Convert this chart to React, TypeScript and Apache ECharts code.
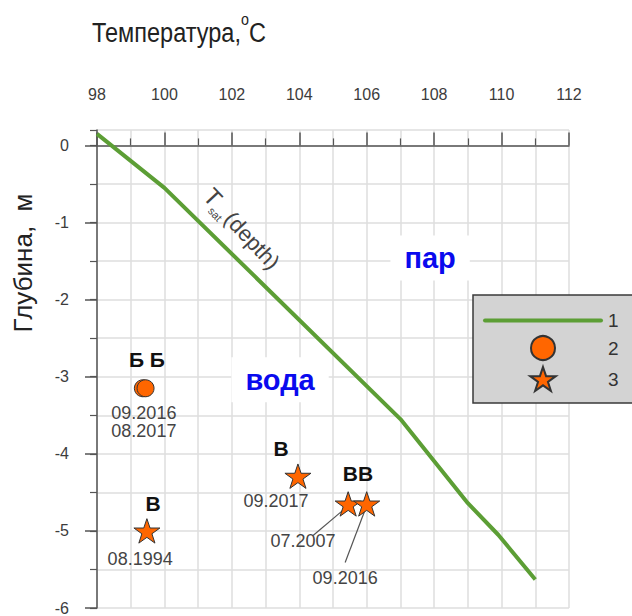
import { useEffect, useRef } from 'react';
import * as echarts from 'echarts';

const FONT = "'Liberation Sans', Arial, sans-serif";

// Axis ticks
const tempTicks = [98, 100, 102, 104, 106, 108, 110, 112];
const depthTicks = [0, -1, -2, -3, -4, -5, -6];
const depthTop = 0.2;

// Saturation temperature against depth, T_sat(depth)
const satTemp = [98.0, 100.0, 107.0, 109.0, 109.9, 111.0];
const satDepth = [0.15, -0.55, -3.55, -4.64, -5.05, -5.63];

// Series 2: boiling water (circles)
const boilTemp = [99.36, 99.44];
const boilDepth = [-3.15, -3.15];

// Series 3: water (stars)
const waterTemp = [99.48, 103.96, 105.45, 106.0];
const waterDepth = [-5.0, -4.29, -4.65, -4.65];

// Point annotations (anchored in data units)
const noteText = ['Б Б', '09.2016\n08.2017', 'В', '08.1994', 'В', '09.2017', 'ВВ', '07.2007', '09.2016'];
const noteTemp = [99.48, 99.39, 99.66, 99.28, 103.46, 103.31, 105.74, 104.11, 105.36];
const noteDepth = [-2.78, -3.59, -4.64, -5.37, -3.93, -4.61, -4.26, -5.13, -5.61];
const noteBold = [true, false, true, false, true, false, true, false, false];

// Leader lines from stars to their dates: [t1, d1, t2, d2]
const leaders = [
  [105.30, -4.73, 104.41, -5.06],
  [105.95, -4.73, 105.36, -5.41],
];

// Phase region labels
const phaseText = ['вода', 'пар'];
const phaseTemp = [103.43, 107.88];
const phaseDepth = [-3.04, -1.46];

// Curve label anchor (start of the text)
const curveLabelTemp = 101.29;
const curveLabelDepth = -0.6;

const GREEN = '#5c9e35';
const ORANGE = '#ff6600';
const STAR = 'path://M50,0 L61.8,35.1 L98.9,35.1 L68.9,56.8 L80.3,91.9 L50,70.2 L19.7,91.9 L31.1,56.8 L1.1,35.1 L38.2,35.1 Z';
const LINE_ICON = 'path://M2,0 H118 A2,2 0 0 1 118,4 H2 A2,2 0 0 1 2,0 Z';

const AXIS = '#555555';
const GRID = '#dedede';

export default function App() {
  const ref = useRef<HTMLDivElement>(null);

  useEffect(() => {
    if (!ref.current) return;
    const chart = echarts.init(ref.current, null, { renderer: 'svg' });

    const option: any = {
      animation: false,
      backgroundColor: '#ffffff',
      grid: { left: 97, right: 63, top: 130, bottom: 5, containLabel: false },
      xAxis: {
        type: 'value',
        position: 'top',
        min: tempTicks[0],
        max: tempTicks[tempTicks.length - 1],
        interval: tempTicks[1] - tempTicks[0],
        axisLine: { show: true, lineStyle: { color: AXIS, width: 1.5 } },
        axisTick: { show: true, length: 13, lineStyle: { color: AXIS, width: 1.5 } },
        minorTick: { show: true, splitNumber: 2, length: 7, lineStyle: { color: AXIS, width: 1.2 } },
        axisLabel: { fontSize: 16, color: '#3c3c3c', fontFamily: FONT, margin: 28 },
        splitLine: { show: true, lineStyle: { color: GRID, width: 1.5 } },
        minorSplitLine: { show: true, lineStyle: { color: GRID, width: 1.5 } },
      },
      yAxis: [
        {
          type: 'value',
          min: depthTicks[depthTicks.length - 1],
          max: depthTop,
          interval: 0.5,
          axisLine: { show: true, lineStyle: { color: AXIS, width: 1.5 } },
          axisTick: { show: true, length: 7, lineStyle: { color: AXIS, width: 1.2 } },
          axisLabel: { show: false },
          splitLine: { show: true, lineStyle: { color: GRID, width: 1.5 } },
        },
        {
          type: 'value',
          position: 'left',
          min: depthTicks[depthTicks.length - 1],
          max: depthTop,
          interval: 1,
          axisLine: { show: false },
          axisTick: { show: true, length: 12, lineStyle: { color: AXIS, width: 1.5 } },
          axisLabel: {
            fontSize: 16,
            color: '#3c3c3c',
            fontFamily: FONT,
            margin: 28,
            showMinLabel: true,
            showMaxLabel: false,
            formatter: (v: number) => (depthTicks.includes(v) ? String(v) : ''),
          },
          splitLine: { show: false },
        },
      ],
      legend: {
        left: 473,
        top: 295,
        orient: 'vertical',
        selectedMode: false,
        itemWidth: 120,
        itemHeight: 24,
        itemGap: 5,
        padding: [16, 40, 11, 10],
        backgroundColor: '#d3d3d3',
        borderColor: '#3a3a3a',
        borderWidth: 1.5,
        borderRadius: 0,
        textStyle: { fontSize: 19, color: '#333', fontFamily: FONT },
        data: [{ name: '1', icon: LINE_ICON }, { name: '2' }, { name: '3' }],
      },
      graphic: [
        {
          type: 'text',
          x: 92,
          y: 11,
          scaleX: 0.84,
          style: {
            text: '{m|Температура,}{s|o}{m|С}',
            rich: {
              m: { fontSize: 28, fontFamily: FONT, fill: '#222', verticalAlign: 'bottom', lineHeight: 35 },
              s: { fontSize: 17, fontFamily: FONT, fill: '#222', verticalAlign: 'top', lineHeight: 17 },
            },
          },
        },
        {
          type: 'text',
          x: 23,
          y: 263,
          rotation: Math.PI / 2,
          style: {
            text: 'Глубина,  м',
            fontSize: 26,
            fontFamily: FONT,
            fill: '#222',
            align: 'center',
            verticalAlign: 'middle',
          },
        },
      ],
      series: [
        {
          name: '1',
          type: 'line',
          data: satTemp.map((t, i) => [t, satDepth[i]]),
          symbol: 'none',
          color: GREEN,
          itemStyle: { color: GREEN },
          lineStyle: { color: GREEN, width: 4 },
          z: 3,
        },
        {
          name: '2',
          type: 'scatter',
          data: boilTemp.map((t, i) => [t, boilDepth[i]]),
          symbol: 'circle',
          symbolSize: 17,
          itemStyle: { color: ORANGE, borderColor: '#333', borderWidth: 1, opacity: 1 },
          z: 4,
        },
        {
          name: '3',
          type: 'scatter',
          data: waterTemp.map((t, i) => [t, waterDepth[i]]),
          symbol: STAR,
          symbolSize: 26,
          symbolKeepAspect: true,
          itemStyle: { color: ORANGE, borderColor: '#333', borderWidth: 1, opacity: 1 },
          z: 4,
        },
        {
          name: 'leaders',
          type: 'custom',
          silent: true,
          data: leaders,
          z: 3,
          renderItem: (_p: any, api: any) => {
            const a = api.coord([api.value(0), api.value(1)]);
            const b = api.coord([api.value(2), api.value(3)]);
            return {
              type: 'line',
              shape: { x1: a[0], y1: a[1], x2: b[0], y2: b[1] },
              style: { stroke: '#555', lineWidth: 1.2 },
            };
          },
        },
        {
          name: 'notes',
          type: 'custom',
          silent: true,
          data: noteTemp.map((t, i) => [t, noteDepth[i]]),
          z: 5,
          renderItem: (params: any, api: any) => {
            const i = params.dataIndex;
            const p = api.coord([api.value(0), api.value(1)]);
            const bold = noteBold[i];
            return {
              type: 'text',
              x: p[0],
              y: p[1],
              style: {
                text: noteText[i],
                fill: bold ? '#111' : '#444',
                fontSize: bold ? 21 : 18,
                fontWeight: bold ? 'bold' : 'normal',
                fontFamily: FONT,
                lineHeight: 18,
                align: 'center',
                verticalAlign: 'middle',
              },
            };
          },
        },
        {
          name: 'phases',
          type: 'custom',
          silent: true,
          data: phaseTemp.map((t, i) => [t, phaseDepth[i]]),
          z: 2,
          renderItem: (params: any, api: any) => {
            const i = params.dataIndex;
            const p = api.coord([api.value(0), api.value(1)]);
            return {
              type: 'text',
              x: p[0],
              y: p[1],
              style: {
                text: phaseText[i],
                fill: '#0a0aee',
                fontSize: 29,
                fontWeight: 'bold',
                fontFamily: FONT,
                align: 'center',
                verticalAlign: 'middle',
                backgroundColor: '#ffffff',
                padding: [8, 14, 8, 14],
              },
            };
          },
        },
        {
          name: 'curveLabel',
          type: 'custom',
          silent: true,
          data: [[curveLabelTemp, curveLabelDepth]],
          z: 5,
          renderItem: (_p: any, api: any) => {
            const p = api.coord([api.value(0), api.value(1)]);
            const base = { fontFamily: FONT, fill: '#444', align: 'left', verticalAlign: 'middle' };
            return {
              type: 'group',
              x: p[0],
              y: p[1],
              rotation: -47 * Math.PI / 180,
              children: [
                { type: 'text', x: 0, y: 0, style: { ...base, text: 'T', fontSize: 24 } },
                { type: 'text', x: 14, y: 10, style: { ...base, text: 'sat', fontSize: 11 } },
                { type: 'text', x: 31, y: 1, style: { ...base, text: '(depth)', fontSize: 22 } },
              ],
            };
          },
        },
      ],
    };

    chart.setOption(option);
    return () => chart.dispose();
  }, []);

  return (
    <div
      ref={ref}
      style={{ position: 'absolute', left: 0, top: 0, width: 632, height: 616 }}
    />
  );
}
